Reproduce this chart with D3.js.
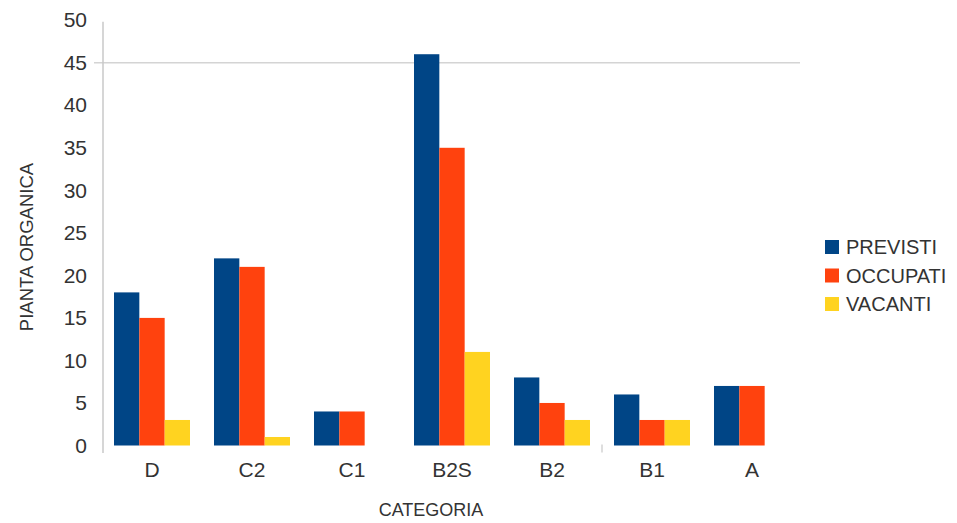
<!DOCTYPE html>
<html>
<head>
<meta charset="utf-8">
<script src="https://cdn.jsdelivr.net/npm/d3@7/dist/d3.min.js"></script>
<style>
  html, body { margin: 0; padding: 0; background: #fff; }
  svg { display: block; font-family: "Liberation Sans", Arial, sans-serif; }
</style>
</head>
<body>
<svg id="chart" width="957" height="523"></svg>
<script>
// Categorie di personale
const categories = ["D", "C2", "C1", "B2S", "B2", "B1", "A"];
// Serie: posti previsti, occupati, vacanti
const seriesNames = ["PREVISTI", "OCCUPATI", "VACANTI"];
const previsti = [18, 22, 4, 46, 8, 6, 7];
const occupati = [15, 21, 4, 35, 5, 3, 7];
const vacanti  = [3, 1, 0, 11, 3, 3, 0];
const yTicks = [0, 5, 10, 15, 20, 25, 30, 35, 40, 45, 50];
const gridValues = [45];
const colors = ["#004586", "#ff420e", "#ffd320"];

const seriesValues = [previsti, occupati, vacanti];
const rows = categories.map((c, i) => ({
  cat: c,
  vals: seriesNames.map((s, j) => ({ key: s, value: seriesValues[j][i] }))
}));

const svg = d3.select("#chart");
const textColor = "#333";

const x = d3.scaleBand().domain(categories).range([102, 802])
  .paddingInner(0.24).paddingOuter(0.12);
const xs = d3.scaleBand().domain(seriesNames).range([0, x.bandwidth()]);
const y = d3.scaleLinear().domain([0, 50]).range([445.5, 20.2]);

// Griglia orizzontale
svg.append("g").selectAll("line").data(gridValues).join("line")
  .attr("x1", 94).attr("x2", 800)
  .attr("y1", d => y(d)).attr("y2", d => y(d))
  .attr("stroke", "#d4d4d4").attr("stroke-width", 1.5);

// Asse verticale
const yAxis = svg.append("g").attr("transform", "translate(103,0)")
  .call(d3.axisLeft(y).tickValues(yTicks).tickSize(0).tickPadding(16));
yAxis.select(".domain").remove();
yAxis.append("line")
  .attr("x1", 0).attr("x2", 0).attr("y1", y(50) + 1.5).attr("y2", 453)
  .attr("stroke", "#c8c8c8").attr("stroke-width", 1.5);
yAxis.selectAll(".tick text")
  .attr("fill", textColor).attr("font-size", 21)
  .attr("font-family", "Liberation Sans, Arial, sans-serif");

// Barre
const groups = svg.append("g").selectAll("g").data(rows).join("g")
  .attr("transform", d => `translate(${x(d.cat)},0)`);
groups.selectAll("rect").data(d => d.vals.filter(v => v.value > 0)).join("rect")
  .attr("x", d => xs(d.key))
  .attr("width", xs.bandwidth())
  .attr("y", d => y(d.value))
  .attr("height", d => y(0) - y(d.value))
  .attr("fill", (d) => colors[seriesNames.indexOf(d.key)]);

// Asse orizzontale (solo etichette)
const xAxis = svg.append("g").attr("transform", `translate(0,${y(0)})`)
  .call(d3.axisBottom(x).tickSize(0).tickPadding(17));
xAxis.select(".domain").remove();
xAxis.selectAll(".tick text")
  .attr("fill", textColor).attr("font-size", 21)
  .attr("font-family", "Liberation Sans, Arial, sans-serif");

// Separatore tra categorie B2 e B1
svg.append("line")
  .attr("x1", x("B1") - x.step() * x.paddingInner() / 2)
  .attr("x2", x("B1") - x.step() * x.paddingInner() / 2)
  .attr("y1", y(0) - 1).attr("y2", y(0) + 7)
  .attr("stroke", "#c8c8c8").attr("stroke-width", 1.2);

// Titoli degli assi
svg.append("text")
  .attr("x", 431).attr("y", 510).attr("text-anchor", "middle")
  .attr("dominant-baseline", "central")
  .attr("fill", textColor).attr("font-size", 18)
  .text("CATEGORIA");
svg.append("text")
  .attr("transform", "translate(26,247) rotate(-90)")
  .attr("text-anchor", "middle").attr("dominant-baseline", "central")
  .attr("fill", textColor).attr("font-size", 18.5)
  .text("PIANTA ORGANICA");

// Legenda
const legend = svg.append("g").selectAll("g").data(seriesNames).join("g")
  .attr("transform", (d, i) => `translate(825,${247 + i * 28.5})`);
legend.append("rect")
  .attr("x", 0).attr("y", -7).attr("width", 14).attr("height", 14)
  .attr("fill", (d, i) => colors[i]);
legend.append("text")
  .attr("x", 21).attr("y", 0).attr("dominant-baseline", "central")
  .attr("fill", textColor).attr("font-size", 20)
  .text(d => d);
</script>
</body>
</html>
